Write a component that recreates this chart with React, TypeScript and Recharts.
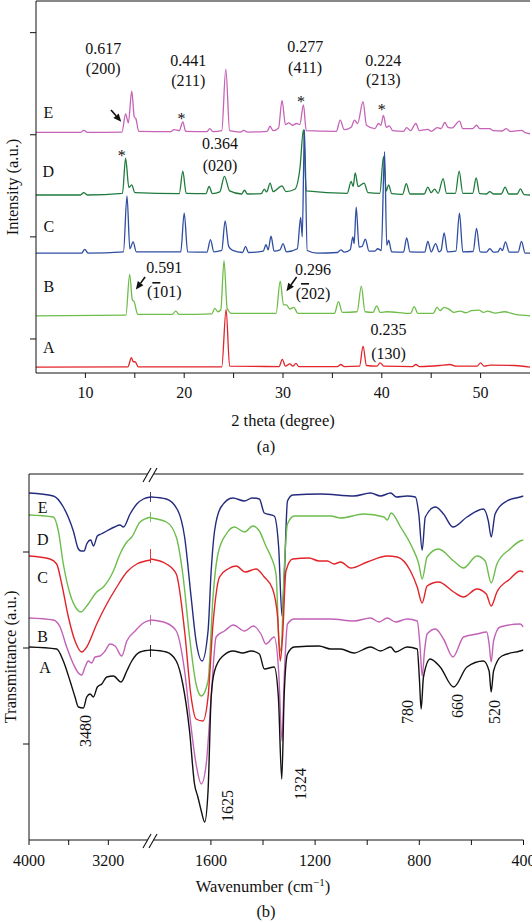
import React from 'react';
import { LineChart, Line, XAxis, YAxis, ReferenceDot, ReferenceLine, Label } from 'recharts';

type Pt = [number, number];

const SERIF = '"Liberation Serif", "Times New Roman", serif';
const INK = '#111';

// ---------- (a) XRD patterns, 2 theta vs stacked intensity ----------
const xrdTicks = [10, 15, 20, 25, 30, 35, 40, 45, 50];
const xrdLabelled = [10, 20, 30, 40, 50];
const xrdYTicks = [100, 400, 700, 1000];

const xrdE: Pt[] = [
  [5, 707], [9.5, 707], [9.83, 713], [10.2, 707], [13.7, 708], [14.07, 761], [14.35, 735], [14.69, 828],
  [14.95, 752], [15.1, 748], [15.4, 710], [18.6, 709], [18.97, 715], [19.5, 712], [19.86, 738], [20.15, 710],
  [22.3, 709], [22.59, 718], [22.9, 709], [23.8, 712], [24.21, 893], [24.6, 712], [25.7, 708], [26.03, 713],
  [26.4, 708], [28.4, 710], [28.69, 725], [29.0, 712], [29.55, 720], [29.9, 801], [30.25, 730], [30.59, 735],
  [30.95, 728], [31.38, 733], [31.7, 730], [32.07, 788], [32.35, 712], [35.4, 710], [35.79, 743], [36.2, 715],
  [36.9, 722], [37.24, 743], [37.55, 733], [38.1, 797], [38.45, 728], [39.3, 718], [39.66, 733], [39.9, 728],
  [40.17, 757], [40.45, 722], [40.76, 726], [41.1, 712], [42.2, 710], [42.52, 721], [42.9, 712], [43.45, 733],
  [43.8, 712], [44.66, 716], [45.0, 710], [45.62, 721], [46.0, 718], [46.38, 736], [46.7, 722], [47.1, 720],
  [47.86, 740], [48.2, 718], [49.2, 718], [49.59, 728], [49.9, 718], [50.93, 718], [51.3, 712], [52.2, 711],
  [52.59, 718], [53.0, 710], [54.14, 713], [54.5, 706], [55, 703],
];

const xrdD: Pt[] = [
  [5, 523], [9.5, 523], [9.83, 530], [10.2, 523], [13.75, 528], [14.07, 631], [14.4, 545], [14.69, 553],
  [15.0, 530], [19.5, 527], [19.86, 593], [20.2, 528], [22.2, 527], [22.52, 548], [22.85, 527], [23.6, 532],
  [24.07, 578], [24.6, 535], [25.8, 526], [26.1, 537], [26.4, 526], [27.8, 527], [28.1, 540], [28.35, 532],
  [28.69, 558], [29.0, 533], [29.9, 550], [30.3, 533], [31.2, 540], [31.72, 603], [32.07, 715], [32.35, 535],
  [36.5, 528], [36.9, 563], [37.1, 548], [37.31, 588], [37.6, 548], [38.21, 558], [38.6, 530], [39.8, 528],
  [40.17, 636], [40.45, 535], [40.69, 553], [41.0, 527], [42.1, 525], [42.48, 556], [42.85, 526], [44.3, 526],
  [44.66, 546], [45.0, 530], [45.34, 540], [45.7, 528], [46.21, 571], [46.55, 528], [47.45, 528], [47.83, 593],
  [48.2, 528], [49.2, 528], [49.55, 573], [49.9, 527], [50.6, 526], [50.93, 533], [51.3, 526], [52.1, 526],
  [52.48, 546], [52.85, 526], [53.7, 526], [54.03, 541], [54.4, 524], [55, 523],
];

const xrdC: Pt[] = [
  [5, 352], [9.6, 352], [9.93, 363], [10.3, 352], [13.85, 356], [14.21, 520], [14.5, 365], [14.83, 385],
  [15.15, 356], [19.65, 356], [20.0, 470], [20.35, 356], [22.3, 355], [22.66, 392], [23.0, 356], [23.8, 360],
  [24.14, 447], [24.5, 372], [24.9, 360], [25.9, 354], [26.21, 372], [26.5, 354], [28.0, 358], [28.28, 377],
  [28.5, 362], [28.79, 402], [29.1, 358], [29.7, 362], [30.0, 380], [30.35, 356], [31.45, 365], [31.79, 457],
  [31.95, 400], [32.17, 715], [32.45, 360], [33.5, 352], [35.5, 354], [35.86, 362], [36.2, 355], [36.8, 362],
  [37.07, 400], [37.2, 380], [37.41, 487], [37.7, 370], [38.0, 372], [38.34, 393], [38.7, 358], [39.3, 358],
  [39.59, 365], [39.95, 360], [40.28, 650], [40.5, 375], [40.69, 390], [41.0, 356], [42.2, 355], [42.52, 397],
  [42.85, 356], [44.35, 355], [44.66, 387], [45.0, 356], [45.45, 380], [45.8, 356], [46.0, 360], [46.31, 412],
  [46.65, 356], [47.5, 358], [47.86, 470], [48.2, 356], [49.25, 357], [49.59, 425], [49.95, 356], [50.6, 355],
  [50.93, 365], [51.3, 355], [51.75, 356], [52.0, 367], [52.2, 360], [52.52, 385], [52.9, 355], [53.8, 355],
  [54.14, 387], [54.5, 352], [55, 352],
];

const xrdB: Pt[] = [
  [5, 168], [14.1, 170], [14.48, 290], [14.75, 215], [14.93, 210], [15.3, 172], [18.8, 172], [19.14, 182],
  [19.5, 172], [22.8, 174], [23.1, 190], [23.4, 180], [23.7, 185], [24.03, 330], [24.35, 190], [24.8, 175],
  [29.3, 175], [29.72, 270], [30.05, 200], [30.34, 200], [30.7, 188], [31.1, 193], [31.5, 175], [35.2, 175],
  [35.62, 210], [36.0, 178], [37.5, 180], [37.93, 255], [38.3, 180], [39.1, 178], [39.48, 197], [39.85, 178],
  [40.52, 180], [42.9, 175], [43.28, 195], [43.65, 175], [45.2, 175], [45.59, 193], [45.9, 183], [46.31, 193],
  [46.83, 187], [47.3, 178], [47.93, 182], [48.5, 177], [49.07, 183], [49.83, 185], [50.3, 178], [50.69, 182],
  [51.5, 176], [52.41, 180], [53.5, 172], [55, 168],
];

const xrdA: Pt[] = [
  [5, 17], [14.3, 18], [14.66, 45], [14.85, 33], [15.03, 33], [15.35, 18], [23.8, 18], [24.24, 187],
  [24.6, 20], [29.6, 19], [29.93, 40], [30.25, 20], [30.69, 27], [31.0, 20], [31.31, 28], [31.6, 19],
  [35.5, 19], [35.86, 25], [36.2, 19], [37.75, 20], [38.1, 79], [38.45, 22], [39.5, 20], [39.83, 30],
  [40.2, 20], [43.1, 19], [43.45, 25], [43.8, 19], [45.86, 22], [46.9, 25], [47.5, 20], [49.65, 20],
  [50.0, 30], [50.35, 20], [51.0, 23], [53.45, 22], [55, 17],
];

const xrdSeries = [
  { name: 'E', data: xrdE, color: '#c563b6' },
  { name: 'D', data: xrdD, color: '#1f7b3d' },
  { name: 'C', data: xrdC, color: '#2f4ea1' },
  { name: 'B', data: xrdB, color: '#6ebd4a' },
  { name: 'A', data: xrdA, color: '#e2252b' },
];

// text notes: [2theta, intensity, text]
const xrdNotes: [number, number, string][] = [
  [11.8, 953, '0.617'], [11.8, 894, '(200)'],
  [20.41, 918, '0.441'], [20.41, 860, '(211)'],
  [32.24, 958, '0.277'], [32.24, 898, '(411)'],
  [40.15, 918, '0.224'], [40.15, 863, '(213)'],
  [23.62, 673, '0.364'], [23.62, 609, '(020)'],
  [17.99, 310, '0.591'], [33.04, 303, '0.296'],
  [40.69, 128, '0.235'], [40.69, 58, '(130)'],
  [6.25, 765, 'E'], [6.25, 593, 'D'], [6.3, 430, 'C'], [6.3, 253, 'B'], [6.3, 75, 'A'],
];
const xrdBarNotes: [number, number, string, string][] = [
  [17.99, 238, '1', '01)'],
  [33.04, 235, '2', '02)'],
];
const xrdStars: Pt[] = [[19.73, 748], [31.82, 798], [40.0, 775], [13.69, 638]];
// arrows: tail -> head
const xrdArrows: [Pt, Pt][] = [
  [[12.59, 773], [13.63, 738]],
  [[16.04, 282], [15.11, 245]],
  [[31.38, 282], [30.35, 240]],
];

// ---------- (b) FTIR spectra, broken wavenumber axis ----------
const irHighTicks = [4000, 3600, 3200];
const irLowTicks = [1600, 1400, 1200, 1000, 800, 600, 400];
const irLabelled = [4000, 3200, 1600, 1200, 800, 400];
const irYTicks = [96, 192, 288];

const irE_high: Pt[] = [
  [4000, 347], [3755, 344], [3654, 333], [3553, 309], [3502, 291], [3475, 289], [3445, 289], [3418, 296],
  [3378, 300], [3350, 294], [3311, 304], [3273, 306], [3216, 309], [3139, 313], [3082, 315], [3048, 313],
  [2981, 326], [2913, 336], [2847, 341], [2770, 343],
];
const irE_low: Pt[] = [
  [1830, 343], [1771, 341], [1726, 329], [1701, 303], [1676, 243], [1657, 199], [1634, 179], [1611, 209],
  [1599, 269], [1586, 309], [1561, 333], [1516, 342], [1471, 339], [1442, 342], [1414, 341], [1395, 327],
  [1357, 324], [1340, 293], [1327, 224], [1319, 259], [1306, 339], [1286, 345], [1178, 346], [1051, 344],
  [987, 347], [949, 344], [910, 347], [888, 343], [847, 344], [815, 343], [802, 326], [789, 290], [777, 323],
  [738, 333], [707, 326], [671, 313], [617, 323], [554, 331], [535, 319], [524, 303], [509, 326], [464, 339],
  [413, 343], [400, 344],
];
const irD_high: Pt[] = [
  [4000, 325], [3755, 323], [3704, 309], [3654, 276], [3586, 246], [3519, 231], [3475, 228], [3418, 234],
  [3317, 248], [3250, 253], [3149, 269], [3082, 286], [3014, 298], [2964, 303], [2880, 318], [2770, 323],
];
const irD_low: Pt[] = [
  [1830, 322], [1771, 318], [1733, 303], [1708, 266], [1682, 203], [1657, 156], [1637, 144], [1611, 159],
  [1592, 243], [1573, 286], [1541, 306], [1510, 313], [1471, 308], [1439, 314], [1414, 309], [1389, 294],
  [1369, 283], [1350, 266], [1338, 196], [1331, 189], [1319, 269], [1306, 316], [1280, 324], [1140, 324],
  [1102, 322], [1013, 326], [936, 323], [923, 320], [908, 327], [872, 313], [828, 293], [802, 276], [789, 261],
  [770, 283], [726, 291], [668, 279], [630, 272], [579, 284], [547, 279], [524, 257], [502, 276], [452, 291],
  [413, 299], [400, 300],
];
const irC_high: Pt[] = [
  [4000, 284], [3788, 281], [3721, 276], [3670, 256], [3603, 223], [3536, 199], [3468, 188], [3418, 193],
  [3317, 216], [3216, 236], [3115, 253], [3014, 268], [2913, 276], [2770, 280],
];
const irC_low: Pt[] = [
  [1830, 281], [1771, 276], [1733, 266], [1701, 209], [1676, 143], [1657, 121], [1631, 119], [1611, 143],
  [1592, 216], [1567, 263], [1535, 271], [1503, 274], [1468, 268], [1427, 271], [1395, 263], [1363, 251],
  [1344, 223], [1334, 179], [1325, 203], [1312, 269], [1286, 281], [1223, 282], [1185, 279], [1153, 279],
  [1127, 276], [1102, 278], [1063, 272], [1000, 278], [923, 284], [885, 283], [834, 269], [808, 253],
  [789, 237], [770, 254], [726, 258], [668, 248], [630, 243], [579, 251], [543, 246], [524, 234], [502, 248],
  [452, 261], [413, 269], [400, 268],
];
const irB_high: Pt[] = [
  [4000, 222], [3755, 220], [3687, 213], [3620, 193], [3553, 176], [3502, 167], [3468, 165], [3435, 173],
  [3402, 179], [3368, 177], [3334, 183], [3284, 184], [3233, 189], [3183, 196], [3132, 194], [3065, 184],
  [3014, 199], [2930, 209], [2847, 217], [2770, 220],
];
const irB_low: Pt[] = [
  [1830, 220], [1771, 217], [1733, 209], [1701, 169], [1682, 126], [1657, 76], [1637, 56], [1618, 76],
  [1599, 143], [1580, 203], [1548, 209], [1514, 215], [1471, 209], [1437, 214], [1408, 206], [1389, 196],
  [1357, 203], [1340, 169], [1327, 99], [1319, 159], [1306, 216], [1280, 221], [1140, 221], [1051, 219],
  [987, 222], [955, 218], [923, 222], [891, 218], [847, 221], [808, 219], [797, 193], [789, 164], [780, 189],
  [770, 206], [738, 211], [707, 201], [671, 183], [630, 203], [579, 206], [541, 208], [532, 196], [524, 178],
  [515, 199], [490, 213], [413, 216], [400, 213],
];
const irA_high: Pt[] = [
  [4000, 193], [3721, 191], [3654, 179], [3586, 159], [3536, 143], [3502, 133], [3452, 132], [3418, 143],
  [3384, 146], [3351, 143], [3311, 153], [3266, 156], [3216, 163], [3149, 164], [3072, 158], [3014, 169],
  [2964, 179], [2880, 188], [2770, 190],
];
const irA_low: Pt[] = [
  [1830, 190], [1771, 188], [1733, 179], [1708, 156], [1682, 109], [1663, 56], [1650, 43], [1637, 29],
  [1624, 18], [1611, 49], [1599, 143], [1586, 169], [1554, 184], [1514, 189], [1478, 187], [1446, 189],
  [1414, 186], [1395, 171], [1357, 173], [1341, 143], [1328, 61], [1319, 143], [1306, 186], [1280, 193],
  [1185, 194], [1140, 191], [1102, 191], [1051, 187], [987, 193], [949, 189], [910, 193], [891, 188],
  [847, 193], [808, 191], [800, 163], [793, 131], [784, 163], [758, 181], [720, 173], [668, 153], [617, 173],
  [554, 179], [532, 169], [524, 148], [515, 169], [483, 184], [413, 189], [400, 190],
];

const irSeries = [
  { name: 'E', high: irE_high, low: irE_low, color: '#242b7e', mark: [338, 348] },
  { name: 'D', high: irD_high, low: irD_low, color: '#6cbd4c', mark: [318, 328] },
  { name: 'C', high: irC_high, low: irC_low, color: '#e2242a', mark: [277, 291] },
  { name: 'B', high: irB_high, low: irB_low, color: '#c262b6', mark: [215, 225] },
  { name: 'A', high: irA_high, low: irA_low, color: '#111111', mark: [183, 195] },
];

const irHighNotes: [number, number, string, boolean][] = [
  [3862, 333, 'E', false], [3862, 301, 'D', false], [3862, 263, 'C', false], [3862, 204, 'B', false],
  [3839, 173, 'A', false], [3428, 109, '3480', true],
];
const irLowNotes: [number, number, string, boolean][] = [
  [1538, 34, '1625', true], [1258, 56, '1324', true], [847, 128, '780', true],
  [652, 134, '660', true], [513, 128, '520', true],
];

const pts = (a: Pt[]) => a.map(([x, y]) => ({ x, y }));

const textStyle = { fill: INK, fontSize: 16, fontFamily: SERIF };

const noteShape = (text: string, rotate: boolean) => (p: any) => (
  <text x={p.cx} y={p.cy} textAnchor="middle" dominantBaseline="central" {...textStyle}
    transform={rotate ? `rotate(-90 ${p.cx} ${p.cy})` : undefined}>
    {text}
  </text>
);

const barNoteShape = (digit: string, rest: string) => (p: any) => (
  <text x={p.cx} y={p.cy} textAnchor="middle" dominantBaseline="central" {...textStyle}>
    (<tspan textDecoration="overline">{digit}</tspan>{rest}
  </text>
);

const arrowShape = (p: any) => {
  const { x1, y1, x2, y2 } = p;
  const a = Math.atan2(y2 - y1, x2 - x1);
  const L = 8, W = 3.5;
  const bx = x2 - L * Math.cos(a), by = y2 - L * Math.sin(a);
  const nx = -Math.sin(a) * W, ny = Math.cos(a) * W;
  return (
    <g>
      <line x1={x1} y1={y1} x2={bx} y2={by} stroke={INK} strokeWidth={1.6} />
      <polygon points={`${x2},${y2} ${bx + nx},${by + ny} ${bx - nx},${by - ny}`} fill={INK} />
    </g>
  );
};

function XrdPanel() {
  return (
    <LineChart width={532} height={440} margin={{ top: 1, right: 2, bottom: 0, left: 0 }}>
      <XAxis type="number" dataKey="x" domain={[5, 55]} allowDataOverflow ticks={xrdTicks} interval={0}
        tickFormatter={(v: number) => (xrdLabelled.includes(v) ? String(v) : '')}
        tick={textStyle} tickSize={5} tickMargin={9} stroke={INK} height={67}>
        <Label value="2 theta (degree)" position="insideBottom" offset={14} fill={INK} fontSize={16.5} fontFamily={SERIF} />
      </XAxis>
      <XAxis xAxisId="top" orientation="top" type="number" domain={[5, 55]} allowDataOverflow ticks={xrdTicks}
        interval={0} tickFormatter={() => ''} mirror tickSize={5} height={1} stroke={INK} />
      <YAxis type="number" domain={[0, 1093]} allowDataOverflow ticks={xrdYTicks} interval={0}
        tickFormatter={() => ''} width={36} tickSize={6} stroke={INK}>
        <Label value="Intensity (a.u.)" angle={-90} position="center" dx={-6} fill={INK} fontSize={16.5} fontFamily={SERIF} />
      </YAxis>
      <YAxis yAxisId="right" orientation="right" type="number" domain={[0, 1093]} tick={false} tickLine={false}
        width={0} stroke={INK} />
      {xrdSeries.map(s => (
        <Line key={s.name} data={pts(s.data)} dataKey="y" type="monotone" stroke={s.color} strokeWidth={1.3}
          dot={false} isAnimationActive={false} />
      ))}
      {xrdNotes.map(([x, y, t], i) => (
        <ReferenceDot key={'n' + i} x={x} y={y} r={0} shape={noteShape(t, false)} />
      ))}
      {xrdBarNotes.map(([x, y, d, r], i) => (
        <ReferenceDot key={'b' + i} x={x} y={y} r={0} shape={barNoteShape(d, r)} />
      ))}
      {xrdStars.map(([x, y], i) => (
        <ReferenceDot key={'s' + i} x={x} y={y} r={0} shape={noteShape('*', false)} />
      ))}
      {xrdArrows.map(([t, h], i) => (
        <ReferenceLine key={'a' + i} segment={[{ x: t[0], y: t[1] }, { x: h[0], y: h[1] }]} shape={arrowShape} />
      ))}
    </LineChart>
  );
}

function IrHigh() {
  return (
    <LineChart width={151} height={398} margin={{ top: 1, right: 0, bottom: 0, left: 0 }}>
      <XAxis type="number" dataKey="x" domain={[2770, 4000]} reversed allowDataOverflow ticks={irHighTicks}
        interval={0} tickFormatter={(v: number) => (irLabelled.includes(v) ? String(v) : '')}
        tick={textStyle} tickSize={5} tickMargin={10} stroke={INK} height={31} />
      <XAxis xAxisId="top" orientation="top" type="number" domain={[2770, 4000]} reversed allowDataOverflow
        ticks={irHighTicks} interval={0} tickFormatter={() => ''} mirror tickSize={5} height={1} stroke={INK} />
      <YAxis type="number" domain={[0, 366]} allowDataOverflow ticks={irYTicks} interval={0}
        tickFormatter={() => ''} width={29} tickSize={6} stroke={INK}>
        <Label value="Transmittance (a.u.)" angle={-90} position="center" dx={-4} fill={INK} fontSize={16.5} fontFamily={SERIF} />
      </YAxis>
      {irSeries.map(s => (
        <Line key={s.name} data={pts(s.high)} dataKey="y" type="monotone" stroke={s.color} strokeWidth={1.4}
          dot={false} isAnimationActive={false} />
      ))}
      {irSeries.map(s => (
        <ReferenceLine key={'m' + s.name} segment={[{ x: 2772, y: s.mark[0] }, { x: 2772, y: s.mark[1] }]}
          stroke={s.color} strokeWidth={1.4} />
      ))}
      {irHighNotes.map(([x, y, t, r], i) => (
        <ReferenceDot key={'n' + i} x={x} y={y} r={0} shape={noteShape(t, r)} />
      ))}
    </LineChart>
  );
}

function IrLow() {
  return (
    <LineChart width={381} height={398} margin={{ top: 1, right: 8.5, bottom: 0, left: 0 }}>
      <XAxis type="number" dataKey="x" domain={[400, 1830]} reversed allowDataOverflow ticks={irLowTicks}
        interval={0} tickFormatter={(v: number) => (irLabelled.includes(v) ? String(v) : '')}
        tick={textStyle} tickSize={5} tickMargin={10} stroke={INK} height={31} />
      <XAxis xAxisId="top" orientation="top" type="number" domain={[400, 1830]} reversed allowDataOverflow
        ticks={irLowTicks} interval={0} tickFormatter={() => ''} mirror tickSize={5} height={1} stroke={INK} />
      <YAxis hide type="number" domain={[0, 366]} allowDataOverflow />
      <YAxis yAxisId="right" orientation="right" type="number" domain={[0, 366]} tick={false} tickLine={false}
        width={0} stroke={INK} />
      {irSeries.map(s => (
        <Line key={s.name} data={pts(s.low)} dataKey="y" type="monotone" stroke={s.color} strokeWidth={1.4}
          dot={false} isAnimationActive={false} />
      ))}
      {irLowNotes.map(([x, y, t, r], i) => (
        <ReferenceDot key={'n' + i} x={x} y={y} r={0} shape={noteShape(t, r)} />
      ))}
    </LineChart>
  );
}

// the "//" marks where the wavenumber axis is cut
const BreakMark = ({ x, y }: { x: number; y: number }) => (
  <g>
    <polygon points={`${x - 8},${y + 7} ${x},${y - 7} ${x + 6},${y - 7} ${x - 2},${y + 7}`} fill="#fff" />
    <line x1={x - 8} y1={y + 7} x2={x} y2={y - 7} stroke={INK} strokeWidth={1.1} />
    <line x1={x - 2} y1={y + 7} x2={x + 6} y2={y - 7} stroke={INK} strokeWidth={1.1} />
  </g>
);

const caption = (top: number): React.CSSProperties => ({
  position: 'absolute', left: 266, top, transform: 'translate(-50%, -50%)', fontFamily: SERIF,
  fontSize: 16.5, color: INK, lineHeight: 1, whiteSpace: 'nowrap',
});

export default function App() {
  return (
    <div style={{ position: 'absolute', left: 0, top: 0, width: 532, height: 922, background: '#fff', overflow: 'hidden' }}>
      <div style={{ position: 'absolute', left: 0, top: 0 }}><XrdPanel /></div>
      <div style={caption(447)}>(a)</div>
      <div style={{ position: 'absolute', left: 0, top: 473 }}><IrHigh /></div>
      <div style={{ position: 'absolute', left: 151, top: 473 }}><IrLow /></div>
      <svg width={532} height={922} style={{ position: 'absolute', left: 0, top: 0, pointerEvents: 'none' }}>
        <BreakMark x={151} y={475} />
        <BreakMark x={151} y={841} />
      </svg>
      <div style={{ ...caption(886), left: 263 }}>Wavenumber (cm<sup style={{ fontSize: 11 }}>−1</sup>)</div>
      <div style={caption(912)}>(b)</div>
    </div>
  );
}
